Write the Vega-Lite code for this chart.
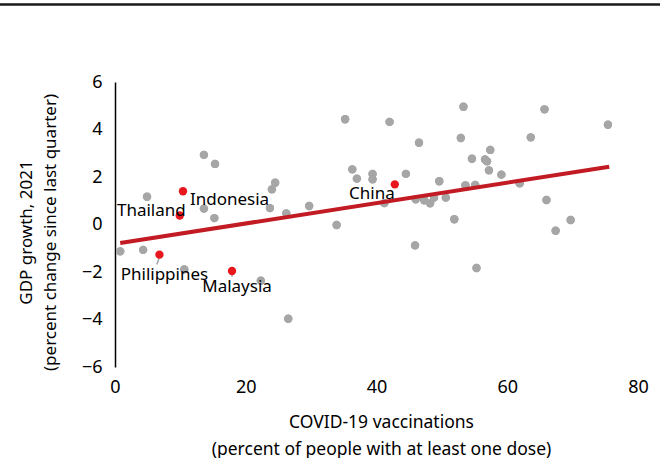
{
  "$schema": "https://vega.github.io/schema/vega-lite/v6.json",
  "width": 523,
  "height": 285,
  "autosize": {"type": "none"},
  "padding": {"left": 115, "top": 82, "right": 22, "bottom": 91},
  "background": "white",
  "config": {"view": {"stroke": null}, "font": "Noto Sans"},
  "datasets": {
    "others": [
      {"x": 0.8, "y": -1.13}, {"x": 4.3, "y": -1.07}, {"x": 4.9, "y": 1.17}, {"x": 10.6, "y": -1.89},
      {"x": 13.6, "y": 2.93}, {"x": 15.3, "y": 2.55}, {"x": 13.6, "y": 0.67}, {"x": 15.2, "y": 0.27},
      {"x": 22.3, "y": -2.37}, {"x": 23.7, "y": 0.69}, {"x": 24.0, "y": 1.48}, {"x": 24.5, "y": 1.76},
      {"x": 26.2, "y": 0.47}, {"x": 26.5, "y": -3.97}, {"x": 29.7, "y": 0.78}, {"x": 33.9, "y": -0.02},
      {"x": 35.2, "y": 4.43}, {"x": 36.3, "y": 2.32}, {"x": 37.0, "y": 1.93}, {"x": 39.4, "y": 2.13},
      {"x": 39.4, "y": 1.90}, {"x": 41.2, "y": 0.90}, {"x": 42.0, "y": 4.32}, {"x": 44.5, "y": 2.13},
      {"x": 45.9, "y": -0.88}, {"x": 46.0, "y": 1.06}, {"x": 46.5, "y": 3.44}, {"x": 47.3, "y": 1.02},
      {"x": 48.2, "y": 0.89}, {"x": 48.8, "y": 1.13}, {"x": 49.6, "y": 1.82}, {"x": 50.6, "y": 1.13},
      {"x": 51.9, "y": 0.22}, {"x": 52.9, "y": 3.64}, {"x": 53.3, "y": 4.96}, {"x": 53.6, "y": 1.65},
      {"x": 54.6, "y": 2.77}, {"x": 55.1, "y": 1.67}, {"x": 55.3, "y": -1.83}, {"x": 56.6, "y": 2.74},
      {"x": 56.9, "y": 2.66}, {"x": 57.4, "y": 3.14}, {"x": 57.2, "y": 2.28}, {"x": 59.1, "y": 2.10},
      {"x": 61.9, "y": 1.73}, {"x": 63.6, "y": 3.67}, {"x": 65.7, "y": 4.85}, {"x": 66.0, "y": 1.03},
      {"x": 67.4, "y": -0.26}, {"x": 69.7, "y": 0.19}, {"x": 75.4, "y": 4.20}
    ],
    "asean": [
      {"country": "Thailand", "x": 9.9, "y": 0.38},
      {"country": "Indonesia", "x": 10.4, "y": 1.40},
      {"country": "Philippines", "x": 6.8, "y": -1.27},
      {"country": "Malaysia", "x": 17.9, "y": -1.96},
      {"country": "China", "x": 42.8, "y": 1.69}
    ],
    "trend": [{"x": 0.8, "y": -0.78}, {"x": 75.6, "y": 2.43}],
    "leaders": [
      {"x": 6.8, "y": -1.36, "x2": 6.4, "y2": -1.68},
      {"x": 17.9, "y": -2.05, "x2": 17.9, "y2": -2.2}
    ],
    "frame": [{"x": -18, "x2": 84, "y": 9.26}]
  },
  "layer": [
    {
      "data": {"name": "others"},
      "mark": {"type": "circle", "size": 70, "color": "#a6a6a6", "opacity": 1},
      "encoding": {
        "x": {
          "field": "x", "type": "quantitative",
          "scale": {"domain": [0, 80], "nice": false, "zero": false},
          "axis": {
            "values": [0, 20, 40, 60, 80], "domain": false, "ticks": false, "grid": false,
            "labelFlush": false, "labelOverlap": false,
            "labelFontSize": 18, "labelColor": "#000", "labelPadding": 11,
            "title": ["COVID-19 vaccinations", "(percent of people with at least one dose)"],
            "titleFontSize": 17.5, "titleFontWeight": "normal", "titleColor": "#000",
            "titlePadding": 17, "titleLineHeight": 27, "titleX": 266
          }
        },
        "y": {
          "field": "y", "type": "quantitative",
          "scale": {"domain": [-6, 6], "nice": false, "zero": false},
          "axis": {
            "values": [-6, -4, -2, 0, 2, 4, 6], "domain": true, "domainColor": "#000", "domainWidth": 1.5,
            "ticks": false, "grid": false, "labelFlush": false, "labelOverlap": false,
            "labelFontSize": 18, "labelColor": "#000", "labelPadding": 13,
            "title": ["GDP growth, 2021", "(percent change since last quarter)"],
            "titleFontSize": 17, "titleFontWeight": "normal", "titleColor": "#000",
            "titlePadding": 22, "titleLineHeight": 24, "titleY": 150
          }
        }
      }
    },
    {
      "mark": {"type": "rule", "color": "#595959", "strokeWidth": 2},
      "encoding": {"y": {"datum": 0, "type": "quantitative"}}
    },
    {
      "data": {"name": "others"},
      "mark": {"type": "circle", "size": 70, "color": "#a6a6a6", "opacity": 1},
      "encoding": {
        "x": {"field": "x", "type": "quantitative"},
        "y": {"field": "y", "type": "quantitative"}
      }
    },
    {
      "data": {"name": "trend"},
      "mark": {"type": "line", "color": "#c21b24", "strokeWidth": 4},
      "encoding": {
        "x": {"field": "x", "type": "quantitative"},
        "y": {"field": "y", "type": "quantitative"}
      }
    },
    {
      "data": {"name": "leaders"},
      "mark": {"type": "rule", "color": "#a6a6a6", "strokeWidth": 1.5},
      "encoding": {
        "x": {"field": "x", "type": "quantitative"},
        "y": {"field": "y", "type": "quantitative"},
        "x2": {"field": "x2"},
        "y2": {"field": "y2"}
      }
    },
    {
      "data": {"name": "asean"},
      "mark": {"type": "circle", "size": 70, "color": "#e8171d", "opacity": 1},
      "encoding": {
        "x": {"field": "x", "type": "quantitative"},
        "y": {"field": "y", "type": "quantitative"}
      }
    },
    {
      "data": {"name": "asean"},
      "transform": [{"filter": "datum.country === 'Thailand'"}],
      "mark": {"type": "text", "fontSize": 17, "color": "#000", "align": "right", "baseline": "alphabetic", "dx": 6, "dy": 1},
      "encoding": {
        "x": {"field": "x", "type": "quantitative"},
        "y": {"field": "y", "type": "quantitative"},
        "text": {"field": "country"}
      }
    },
    {
      "data": {"name": "asean"},
      "transform": [{"filter": "datum.country === 'Indonesia'"}],
      "mark": {"type": "text", "fontSize": 17, "color": "#000", "align": "left", "baseline": "alphabetic", "dx": 7, "dy": 14},
      "encoding": {
        "x": {"field": "x", "type": "quantitative"},
        "y": {"field": "y", "type": "quantitative"},
        "text": {"field": "country"}
      }
    },
    {
      "data": {"name": "asean"},
      "transform": [{"filter": "datum.country === 'Philippines'"}],
      "mark": {"type": "text", "fontSize": 17, "color": "#000", "align": "center", "baseline": "alphabetic", "dx": 5, "dy": 25},
      "encoding": {
        "x": {"field": "x", "type": "quantitative"},
        "y": {"field": "y", "type": "quantitative"},
        "text": {"field": "country"}
      }
    },
    {
      "data": {"name": "asean"},
      "transform": [{"filter": "datum.country === 'Malaysia'"}],
      "mark": {"type": "text", "fontSize": 17, "color": "#000", "align": "center", "baseline": "alphabetic", "dx": 5, "dy": 21},
      "encoding": {
        "x": {"field": "x", "type": "quantitative"},
        "y": {"field": "y", "type": "quantitative"},
        "text": {"field": "country"}
      }
    },
    {
      "data": {"name": "asean"},
      "transform": [{"filter": "datum.country === 'China'"}],
      "mark": {"type": "text", "fontSize": 17, "color": "#000", "align": "right", "baseline": "alphabetic", "dx": 0, "dy": 15},
      "encoding": {
        "x": {"field": "x", "type": "quantitative"},
        "y": {"field": "y", "type": "quantitative"},
        "text": {"field": "country"}
      }
    },
    {
      "mark": {"type": "text", "fontSize": 19, "color": "#000", "align": "center", "baseline": "alphabetic", "lineHeight": 23},
      "encoding": {
        "x": {"datum": 65.1, "type": "quantitative"},
        "y": {"datum": -3.74, "type": "quantitative"},
        "text": {"value": ["y = 0.0429x + 0.7935", "R² = 0.0692"]}
      }
    },
    {
      "data": {"name": "frame"},
      "mark": {"type": "rule", "color": "#1a1a1a", "strokeWidth": 2.5, "clip": false},
      "encoding": {
        "x": {"field": "x", "type": "quantitative"},
        "x2": {"field": "x2"},
        "y": {"field": "y", "type": "quantitative"}
      }
    }
  ]
}
